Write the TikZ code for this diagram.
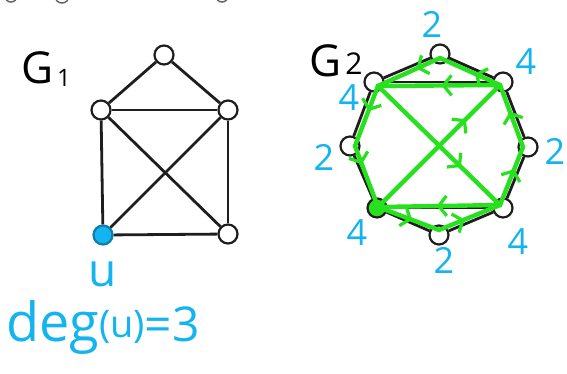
\documentclass[tikz,border=0pt]{standalone}
\usepackage{fontspec}
\setmainfont{Open Sans}
\usetikzlibrary{arrows.meta,decorations.markings}
\definecolor{lblblue}{RGB}{20,180,240}
\definecolor{pathgreen}{RGB}{40,225,30}
\definecolor{edgeblack}{RGB}{30,30,30}
\tikzset{
  vtx/.style={circle,draw=edgeblack,line width=2.2pt,fill=white,minimum size=19pt,inner sep=0pt},
  gedge/.style={draw=edgeblack,line width=2.8pt},
  circuit/.style={draw=pathgreen,line width=4.4pt,line cap=round,
    postaction={decorate},
    decoration={markings,mark=at position #1 with {\arrow[pathgreen,line width=3.2pt]{Straight Barb[length=8pt,width=20pt]}}}},
  circuit/.default=0.5,
  degnum/.style={text=lblblue,font=\fontsize{36}{36}\selectfont,inner sep=0pt},
  glabel/.style={text=black,inner sep=0pt},
  frag/.style={draw=gray!80!black,line width=1.5pt}
}
\begin{document}
\begin{tikzpicture}[x=1pt,y=-1pt]
\useasboundingbox (0,0) rectangle (567,373);
\fill[white] (0,0) rectangle (567,373);
% cut-off fragments at the top edge
\draw[frag] (11,-4) circle (6);
\draw[frag] (62,-4) circle (7);
\draw[frag] (222,-4) circle (6);

% ---------- G1 ----------
\node[glabel,font=\fontsize{44}{44}\selectfont] (g1) at (38,68) {G};
\node[glabel,font=\fontsize{24}{24}\selectfont] (g1s) at (64,78) {1};
\node[vtx] (a) at (164,55) {};
\node[vtx] (b) at (101,110) {};
\node[vtx] (c) at (228,110) {};
\node[vtx,fill=lblblue,draw=lblblue!70!black] (d) at (103,235) {};
\node[vtx] (e) at (228,234) {};
\draw[gedge] (a) -- (b);
\draw[gedge] (a) -- (c);
\draw[gedge] (b) -- (c);
\draw[gedge] (b) -- (d);
\draw[gedge] (c) -- (e);
\draw[gedge] (b) -- (e);
\draw[gedge] (c) -- (d);
\draw[gedge] (d) -- (e);
\node[text=lblblue,inner sep=0pt,font=\fontsize{46}{46}\selectfont] (ulbl) at (103,274) {u};
\node[text=lblblue,inner sep=0pt,anchor=base west] (deg) at (6,341)
  {\fontsize{54}{54}\selectfont deg\fontsize{38}{38}\selectfont\raisebox{4pt}{(u)}\fontsize{48}{48}\selectfont=3};

% ---------- G2 ----------
\node[glabel,font=\fontsize{44}{44}\selectfont] (g2) at (326,61) {G};
\node[glabel,font=\fontsize{30}{30}\selectfont] (g2s) at (354,64) {2};
\node[vtx] (t) at (440,54) {};
\node[vtx] (ul) at (374,82) {};
\node[vtx] (ur) at (503,82) {};
\node[vtx] (l) at (350,146) {};
\node[vtx] (r) at (528,147) {};
\node[vtx,fill=pathgreen] (ll) at (377,208) {};
\node[vtx] (lr) at (503,208) {};
\node[vtx] (bt) at (439,235) {};
\foreach \u/\v in {t/ul,t/ur,ul/ur,ul/l,l/ll,ur/r,r/lr,ll/bt,bt/lr,ll/lr,ul/lr,ur/ll}
  \draw[gedge] (\u) -- (\v);
% green circuit (slightly inside the black edges)
\coordinate (gt) at (440,58);
\coordinate (gul) at (378,86);
\coordinate (gur) at (500,85);
\coordinate (gl) at (355,146);
\coordinate (gr) at (523,147);
\coordinate (gll) at (378,207);
\coordinate (glr) at (500,205);
\coordinate (gbt) at (439,230);
\foreach \u/\v/\p in {gll/gbt/0.56,gbt/glr/0.42,glr/gr/0.62,gr/gur/0.57,gur/gt/0.42,gt/gul/0.38,gul/gl/0.42,gl/gll/0.3,gll/gur/0.72,gur/gul/0.48,gul/glr/0.68,glr/gll/0.52}
  \draw[circuit=\p] (\u) -- (\v);
% degree labels
\node[degnum] (n1) at (432,24) {2};
\node[degnum] (n2) at (526,62) {4};
\node[degnum] (n3) at (349,98) {4};
\node[degnum] (n4) at (324,157) {2};
\node[degnum] (n5) at (555,151) {2};
\node[degnum] (n6) at (357,233) {4};
\node[degnum] (n7) at (518,242) {4};
\node[degnum] (n8) at (444,260) {2};
\end{tikzpicture}
\end{document}
